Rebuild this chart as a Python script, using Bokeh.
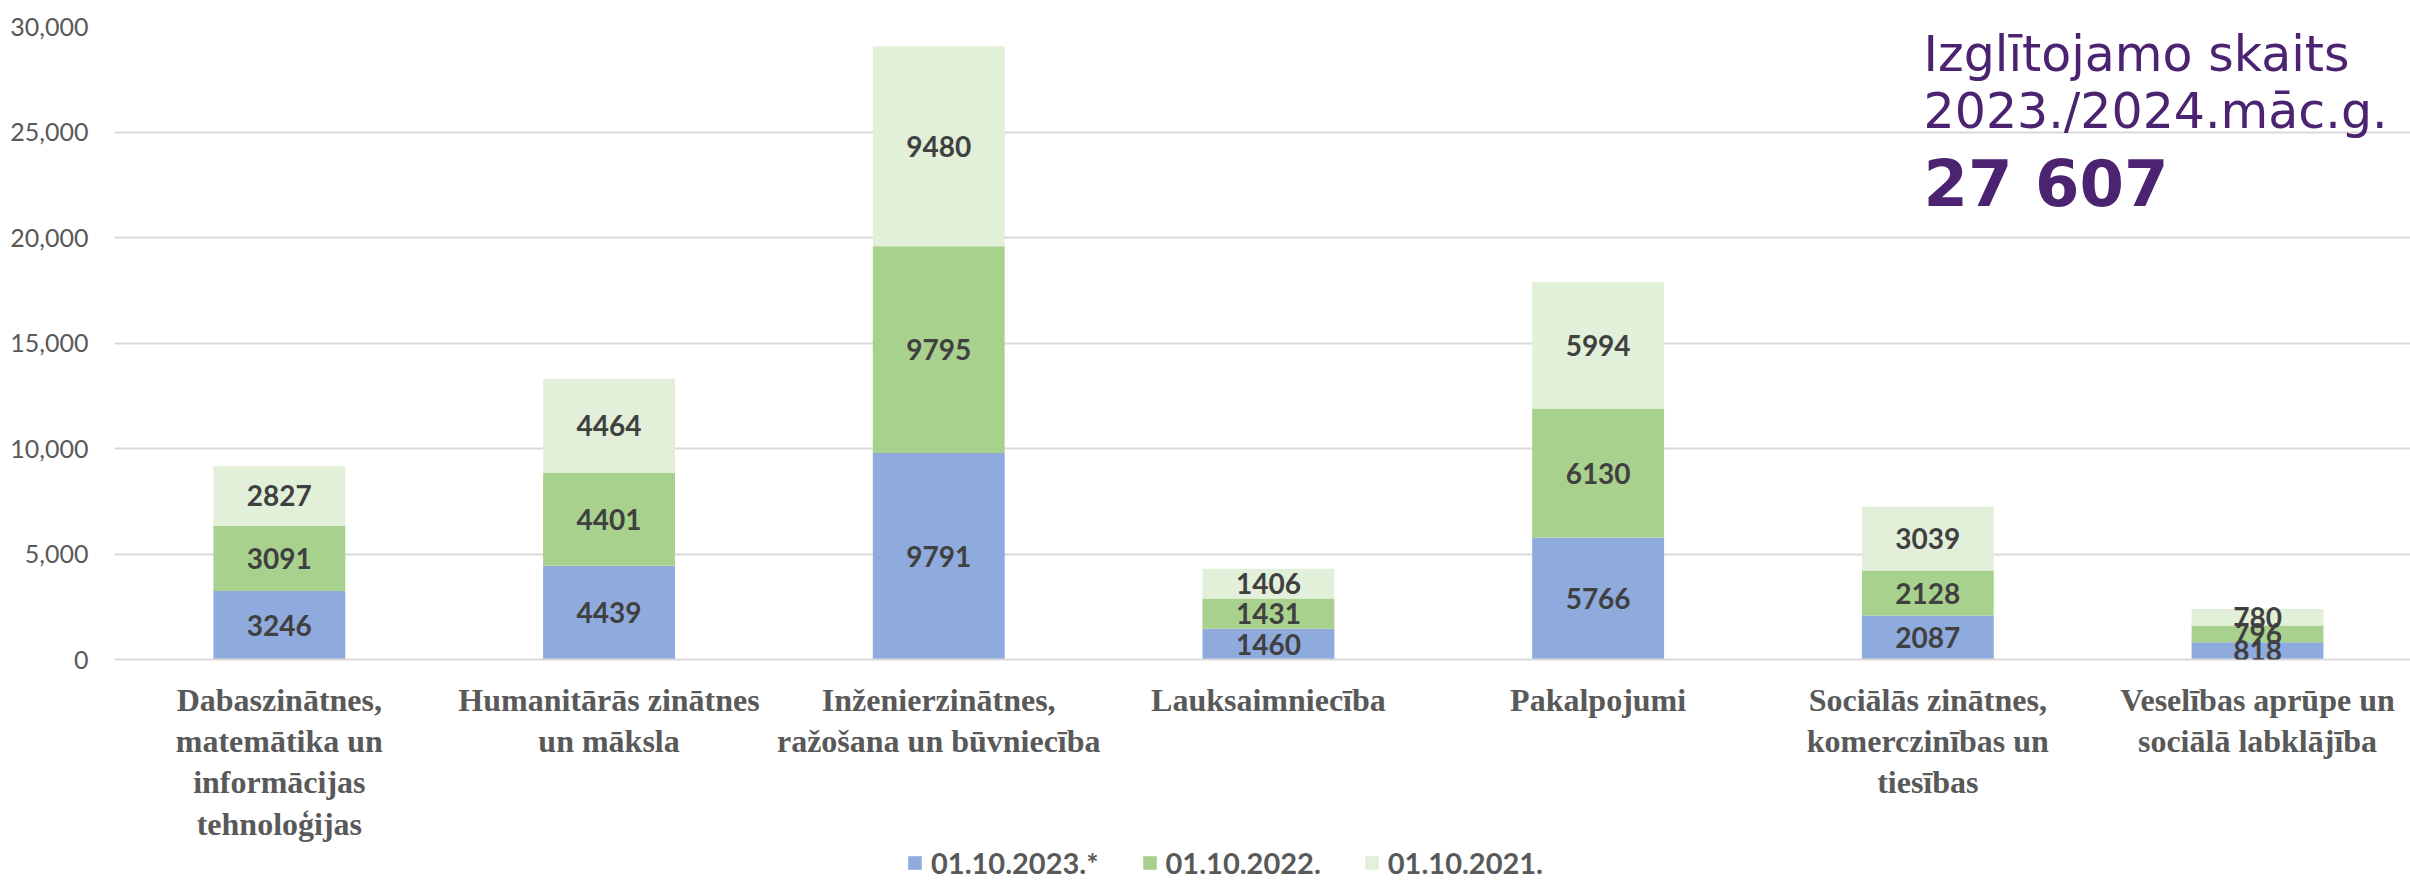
import numpy as np
from bokeh.plotting import figure
from bokeh.layouts import column
from bokeh.models import (ColumnDataSource, Range1d, FixedTicker, NumeralTickFormatter,
                          Legend, LegendItem, LabelSet, Label)
from bokeh.core.properties import value
from bokeh.embed import file_html
from bokeh.resources import INLINE

# ---- data ----
categories = [
    "Dabaszinātnes,\nmatemātika un\ninformācijas\ntehnoloģijas",
    "Humanitārās zinātnes\nun māksla",
    "Inženierzinātnes,\nražošana un būvniecība",
    "Lauksaimniecība",
    "Pakalpojumi",
    "Sociālās zinātnes,\nkomerczinības un\ntiesības",
    "Veselības aprūpe un\nsociālā labklājība",
]
series_names = ["01.10.2023.*", "01.10.2022.", "01.10.2021."]
v2023 = [3246, 4439, 9791, 1460, 5766, 2087, 818]
v2022 = [3091, 4401, 9795, 1431, 6130, 2128, 796]
v2021 = [2827, 4464, 9480, 1406, 5994, 3039, 780]
y_ticks = [0, 5000, 10000, 15000, 20000, 25000, 30000]
title_lines = ["Izglītojamo skaits", "2023./2024.māc.g."]
total_text = "27 607"

colors = ["#8FAADC", "#A9D18E", "#E2F0D9"]
grid_col = "#D9D9D9"
txt_col = "#595959"
purple = "#4B2370"

n = len(categories)
xs = np.arange(n) + 0.5
keys = ["s2023", "s2022", "s2021"]
src = ColumnDataSource(dict(x=xs, s2023=v2023, s2022=v2022, s2021=v2021))

p = figure(width=2410, height=844, x_range=Range1d(0, 6.964), y_range=Range1d(0, 30000),
           output_backend="svg", toolbar_location=None,
           min_border_left=114, min_border_right=0, min_border_top=26, min_border_bottom=185)
p.outline_line_color = None
p.background_fill_color = "white"

renderers = p.vbar_stack(keys, x="x", width=0.4, fill_color=colors, line_color=None, source=src)

# data labels centred in each segment
lx, ly, lt = [], [], []
base = np.zeros(n)
for vals in (v2023, v2022, v2021):
    arr = np.array(vals, dtype=float)
    for i in range(n):
        lx.append(xs[i]); ly.append(base[i] + arr[i] / 2); lt.append(str(vals[i]))
    base += arr
lsrc = ColumnDataSource(dict(x=lx, y=ly, t=lt))
p.add_layout(LabelSet(x="x", y="y", text="t", source=lsrc, text_align="center",
                      text_baseline="middle", text_font=value("Lato"),
                      text_font_style="bold", text_font_size="28px", text_color="#404040"))

# axes
p.xgrid.grid_line_color = None
p.ygrid.grid_line_color = grid_col
p.ygrid.grid_line_width = 2
p.yaxis.ticker = FixedTicker(ticks=y_ticks)
p.yaxis.formatter = NumeralTickFormatter(format="0,0")
p.yaxis.axis_line_color = None
p.yaxis.major_tick_line_color = None
p.yaxis.minor_tick_line_color = None
p.yaxis.major_tick_out = 0
p.yaxis.major_tick_in = 0
p.yaxis.major_label_text_font = "Lato"
p.yaxis.major_label_text_font_size = "25px"
p.yaxis.major_label_text_color = txt_col
p.yaxis.major_label_standoff = 26

p.xaxis.ticker = FixedTicker(ticks=list(xs))
p.xaxis.major_label_overrides = {float(x): c for x, c in zip(xs, categories)}
p.xaxis.axis_line_color = grid_col
p.xaxis.axis_line_width = 2
p.xaxis.major_tick_line_color = None
p.xaxis.minor_tick_line_color = None
p.xaxis.major_tick_out = 0
p.xaxis.major_tick_in = 0
p.xaxis.major_label_text_font = "Liberation Serif"
p.xaxis.major_label_text_font_style = "bold"
p.xaxis.major_label_text_font_size = "32px"
p.xaxis.major_label_text_color = txt_col
p.xaxis.major_label_standoff = 22
p.xaxis.major_label_text_line_height = 1.15

# headline text
p.add_layout(Label(x=5.487, y=28660, text=title_lines[0], text_font="DejaVu Sans",
                   text_font_size="49px", text_color=purple, text_baseline="alphabetic"))
p.add_layout(Label(x=5.487, y=25963, text=title_lines[1], text_font="DejaVu Sans",
                   text_font_size="49px", text_color=purple, text_baseline="alphabetic"))
p.add_layout(Label(x=5.487, y=22514, text=total_text, text_font="DejaVu Sans",
                   text_font_style="bold", text_font_size="64px", text_color=purple,
                   text_baseline="alphabetic"))

# ---- legend strip below the chart (its own bars are hidden) ----
lg = figure(width=2410, height=36, output_backend="svg", toolbar_location=None,
            x_axis_type=None, y_axis_type=None, min_border=0,
            x_range=Range1d(0, 7), y_range=Range1d(0, 1))
lg.outline_line_color = None
lg.xgrid.grid_line_color = None
lg.ygrid.grid_line_color = None
lrend = lg.vbar_stack(keys, x="x", width=0.4, fill_color=colors, line_color=None,
                      source=src, visible=False)
items = [LegendItem(label=nm, renderers=[r]) for nm, r in zip(series_names, lrend)]
legend = Legend(items=items, orientation="horizontal", location=(792, 0),
                glyph_width=17, glyph_height=17, label_standoff=8, spacing=42,
                padding=0, margin=0, border_line_color=None, background_fill_alpha=0,
                inactive_fill_alpha=0,
                label_text_font="Lato", label_text_font_style="bold",
                label_text_font_size="29px", label_text_color=txt_col)
lg.add_layout(legend, "center")

layout = column(p, lg, spacing=0)
open("out.html", "w").write(file_html(layout, INLINE))
